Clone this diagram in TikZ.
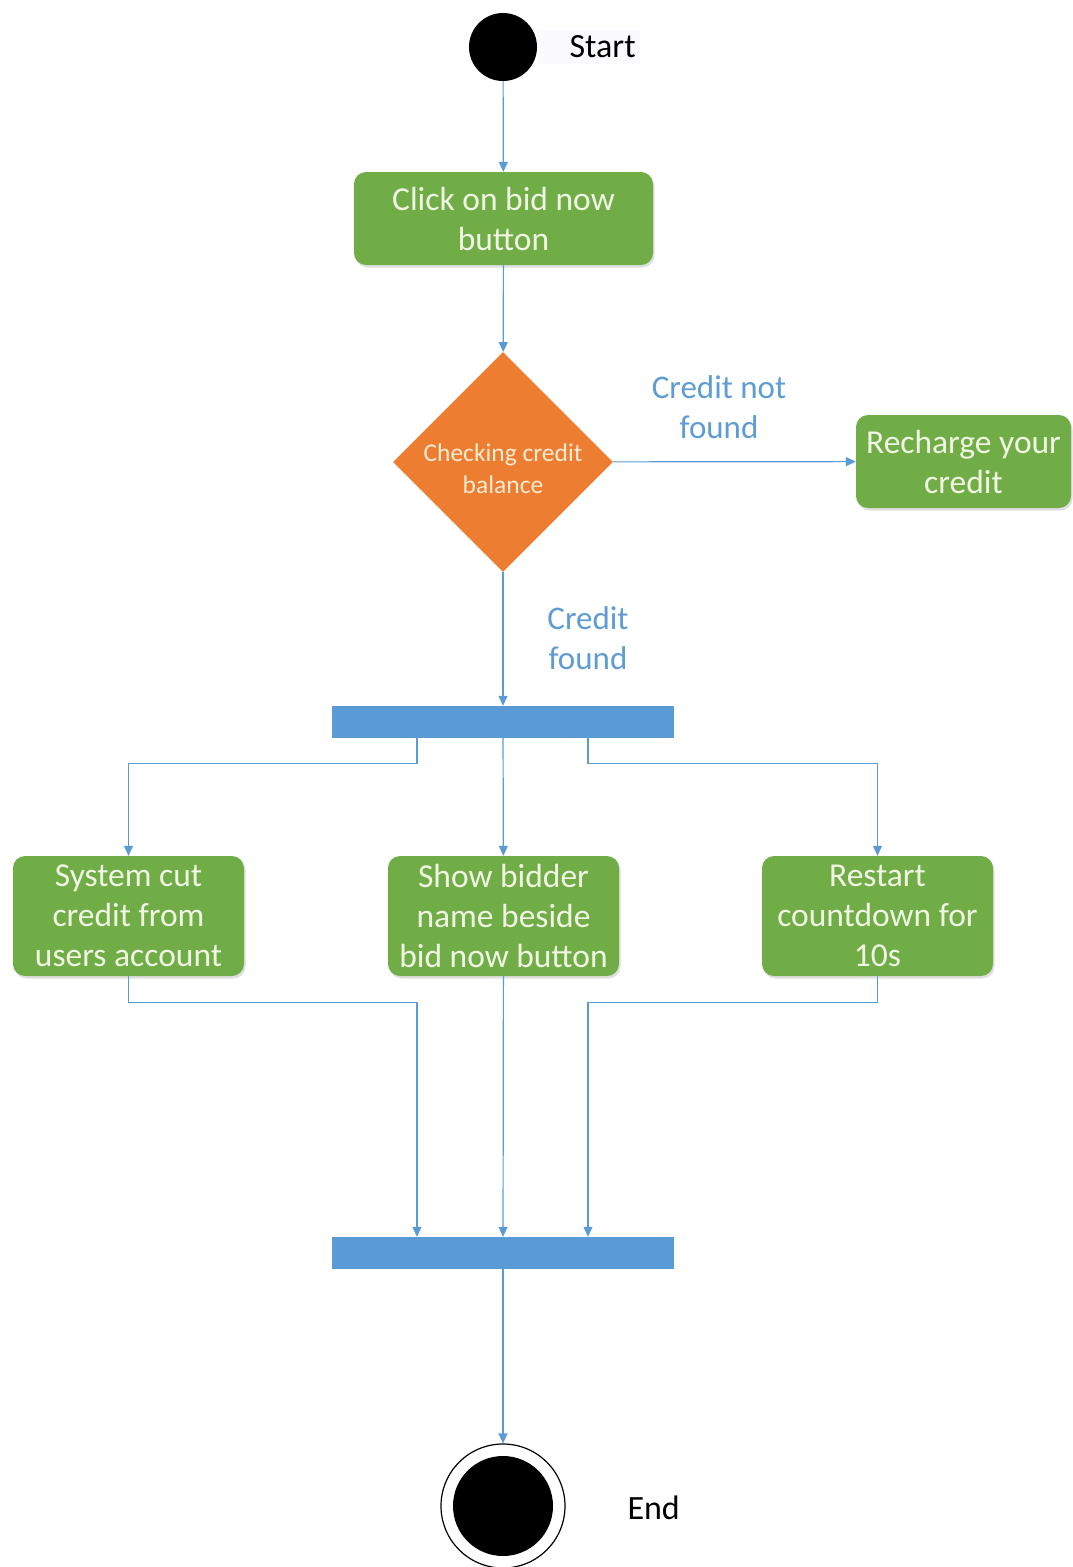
\documentclass[tikz,border=0pt]{standalone}
\usepackage{fontspec}
\setmainfont{Carlito}
\usetikzlibrary{arrows.meta,shapes.geometric,shadows}
\definecolor{actgreen}{HTML}{70AD47}
\definecolor{actfg}{HTML}{F1F6E4}
\definecolor{chkorange}{HTML}{ED7D31}
\definecolor{chkfg}{HTML}{FDEBD3}
\definecolor{flowblue}{HTML}{5B9BD5}
\definecolor{lblblue}{HTML}{5E9CD3}
\tikzset{
  act/.style={rectangle, rounded corners=12pt, fill=actgreen, text=actfg, align=center,
    inner sep=0pt, font=\fontsize{33.5}{40}\selectfont,
    drop shadow={shadow xshift=1.5pt, shadow yshift=-2.5pt, opacity=.25}},
  check/.style={diamond, aspect=1, fill=chkorange, inner sep=0pt, minimum size=220pt},
  checktext/.style={text=chkfg, align=center, inner sep=0pt, font=\fontsize{25.5}{32}\selectfont},
  bar/.style={rectangle, fill=flowblue, minimum width=342pt, minimum height=32pt, inner sep=0pt},
  flow/.style={draw=flowblue, line width=1.2pt, -{Triangle[length=10pt,width=9pt]}},
  lbl/.style={text=lblblue, align=center, font=\fontsize{33}{40}\selectfont},
  tag/.style={anchor=west, text=black, font=\fontsize{34}{36}\selectfont}
}

\begin{document}
\begin{tikzpicture}[x=1pt, y=-1pt]
		%%%%% START %%%%%
		\useasboundingbox (0,0) rectangle (1073,1567);
		
		\fill[blue!2] (537,30) rectangle (640,64);
		\node[circle, fill=black, minimum size=68pt, inner sep=0pt] (start) at (503,47) {};
		\node[tag] (startlbl) at (566,47) {Start};
		
		\node[act, minimum width=299pt, minimum height=93pt] (click) at (503.5,218.5) {Click on bid now\\button};
		\node[check] (chk) at (503,462) {};
		\node[checktext] (chktxt) at (503,469) {Checking credit\\balance};
		\node[act, minimum width=215pt, minimum height=93pt] (recharge) at (963.5,461.5) {Recharge your\\credit};
		
		\node[lbl] (nolbl) at (719,407) {Credit not\\found};
		\node[lbl] (oklbl) at (588,638) {Credit\\found};
		
		\node[bar] (fork) at (503,722) {};
		
		\node[act, minimum width=231pt, minimum height=120pt] (cut) at (128.5,916) {System cut\\credit from\\users account};
		\node[act, minimum width=231pt, minimum height=120pt] (show) at (503.5,916) {Show bidder\\name beside\\bid now button};
		\node[act, minimum width=231pt, minimum height=120pt] (restart) at (877.5,916) {Restart\\countdown for\\10s};
		
		\node[bar] (join) at (503,1253) {};
		
		\node[circle, draw=black, line width=1.2pt, minimum size=124pt, inner sep=0pt] (finish) at (503,1506) {};
		\node[circle, fill=black, minimum size=100pt, inner sep=0pt] (finishdot) at (finish) {};
		\node[tag] (endlbl) at (624,1508) {End};
		
		\draw[flow] (start) -- (click);
		\draw[flow] (click) -- (chk);
		\draw[flow] (chk) -- (recharge);
		\draw[flow] (chk) -- (fork);
		
		\draw[flow] ([xshift=-86pt]fork.south) -- ++(0,25) -| (cut);
		\draw[flow] (fork) -- (show);
		\draw[flow] ([xshift=85pt]fork.south) -- ++(0,25) -| (restart);
		
		\draw[flow] (cut.south) -- ++(0,26) -| ([xshift=-86pt]join.north);
		\draw[flow] (show) -- (join);
		\draw[flow] (restart.south) -- ++(0,26) -| ([xshift=85pt]join.north);
		
		\draw[flow] (join) -- (finish);
		%%%%% END %%%%%
\end{tikzpicture}
\end{document}
